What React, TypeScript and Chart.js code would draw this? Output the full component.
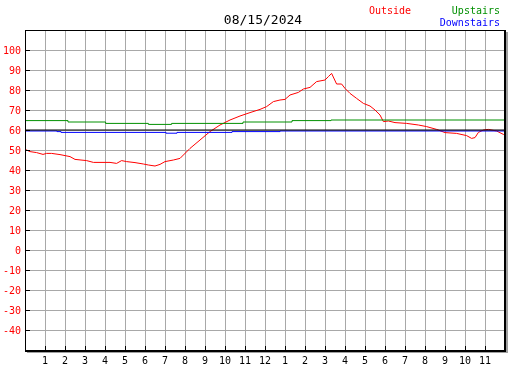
import React, { useEffect, useRef } from 'react';
import { Chart, registerables } from 'chart.js';

Chart.register(...registerables);

const TITLE = '08/15/2024';
const SERIES_NAMES = ['Outside', 'Upstairs', 'Downstairs'];

const outsideHours = [0, 0.08, 0.25, 0.58, 0.9, 1.08, 1.33, 1.75, 2.25, 2.5, 3.08, 3.42, 4.25, 4.58, 4.83, 5.08, 5.5, 5.92, 6.17, 6.5, 6.75, 7.0, 7.42, 7.75, 8.25, 8.75, 9.25, 9.75, 10.25, 10.75, 11.25, 11.75, 12.08, 12.42, 12.75, 13.0, 13.25, 13.67, 13.92, 14.25, 14.58, 15.0, 15.17, 15.33, 15.58, 15.83, 16.0, 16.25, 16.58, 16.92, 17.25, 17.5, 17.75, 17.92, 18.17, 18.5, 19.08, 19.67, 20.08, 20.58, 21.0, 21.58, 22.08, 22.33, 22.5, 22.67, 22.92, 23.17, 23.58, 23.92, 24];
const outsideTemps = [50.5, 50, 49.2, 48.7, 47.8, 48.3, 48.3, 47.7, 46.7, 45.3, 44.7, 43.8, 43.8, 43.3, 44.7, 44.2, 43.7, 43, 42.5, 42, 42.8, 44.2, 45, 45.8, 50.8, 55, 59.2, 62.5, 65, 67, 68.7, 70.3, 71.7, 74.2, 75, 75.3, 77.5, 78.8, 80.5, 81.3, 84.2, 85, 86.7, 88.3, 83, 83, 80.8, 78.3, 75.8, 73.3, 72, 70, 67.5, 64.2, 64.5, 63.7, 63.3, 62.5, 61.7, 60.3, 58.7, 58.3, 57.2, 55.8, 56.2, 58.8, 60, 60.3, 59.5, 57.8, 57.5];

const upstairsHours = [0, 2.15, 4.03, 6.17, 7.33, 10.9, 13.35, 15.3, 24];
const upstairsTemps = [64.7, 64, 63.3, 62.8, 63.3, 64, 64.7, 65, 65];

const downstairsHours = [0, 1.6, 1.8, 7.05, 7.6, 10.35, 12.75, 24];
const downstairsTemps = [59.5, 59.2, 58.8, 58.4, 58.8, 59.2, 59.5, 59.5];

const referenceLine = 60;
const Y_MIN = -50;
const Y_MAX = 110;
const Y_STEP = 10;
const X_MIN = 0;
const X_MAX = 24;

const toPoints = (xs: number[], ys: number[]) => xs.map((x, i) => ({ x, y: ys[i] }));

const hourLabel = (v: number) => {
  const h = Math.round(v);
  if (h <= 0 || h >= 24) return '';
  const m = h % 12;
  return m === 0 ? '12' : String(m);
};

const MONO = '"DejaVu Sans Mono", "Liberation Mono", monospace';

const framePlugin = {
  id: 'frame',
  afterDraw(chart: any) {
    const { ctx, chartArea, scales } = chart;
    const { left, top, right, bottom } = chartArea;
    const x = scales.x;
    const y = scales.y;
    ctx.save();
    // inward tick marks
    ctx.strokeStyle = '#000';
    ctx.lineWidth = 1;
    ctx.beginPath();
    for (let v = Y_MIN + Y_STEP; v < Y_MAX; v += Y_STEP) {
      const py = Math.round(y.getPixelForValue(v)) + 0.5;
      ctx.moveTo(left, py);
      ctx.lineTo(left + 5, py);
    }
    for (let h = X_MIN + 1; h < X_MAX; h++) {
      const px = Math.round(x.getPixelForValue(h)) + 0.5;
      ctx.moveTo(px, bottom);
      ctx.lineTo(px, bottom - 4);
    }
    ctx.stroke();
    // shadow
    ctx.fillStyle = '#a0a0a0';
    ctx.fillRect(right + 1, top + 2, 2, bottom - top + 1);
    ctx.fillRect(left + 2, bottom + 2, right - left + 1, 1);
    // border
    ctx.fillStyle = '#000';
    ctx.fillRect(left, top, right - left, 1);
    ctx.fillRect(left, top, 1, bottom - top + 1);
    ctx.fillRect(right - 1, top, 2, bottom - top + 2);
    ctx.fillRect(left, bottom, right - left + 1, 2);
    // title and legend text
    ctx.textBaseline = 'middle';
    ctx.font = '13px ' + MONO;
    ctx.fillStyle = '#000';
    ctx.textAlign = 'center';
    ctx.fillText(TITLE, 263, 20.5);
    ctx.font = '10px ' + MONO;
    ctx.textAlign = 'left';
    ctx.fillStyle = '#ff0000';
    ctx.fillText(SERIES_NAMES[0], 369, 11.5);
    ctx.textAlign = 'right';
    ctx.fillStyle = '#009000';
    ctx.fillText(SERIES_NAMES[1], 500, 11.5);
    ctx.fillStyle = '#0000ff';
    ctx.fillText(SERIES_NAMES[2], 500, 23.5);
    ctx.restore();
  },
};

export default function App() {
  const canvasRef = useRef<HTMLCanvasElement | null>(null);

  useEffect(() => {
    if (!canvasRef.current) return;
    const chart = new Chart(canvasRef.current, {
      type: 'line',
      data: {
        datasets: [
          {
            label: 'Reference',
            data: toPoints([X_MIN, X_MAX], [referenceLine, referenceLine]),
            borderColor: '#000000',
            borderWidth: 1,
            pointRadius: 0,
          },
          {
            label: SERIES_NAMES[2],
            data: toPoints(downstairsHours, downstairsTemps),
            borderColor: '#0000ff',
            borderWidth: 1,
            pointRadius: 0,
            stepped: true,
          },
          {
            label: SERIES_NAMES[1],
            data: toPoints(upstairsHours, upstairsTemps),
            borderColor: '#009000',
            borderWidth: 1,
            pointRadius: 0,
            stepped: true,
          },
          {
            label: SERIES_NAMES[0],
            data: toPoints(outsideHours, outsideTemps),
            borderColor: '#ff0000',
            borderWidth: 1,
            pointRadius: 0,
            tension: 0,
          },
        ],
      },
      options: {
        animation: false,
        responsive: false,
        maintainAspectRatio: false,
        layout: { padding: { left: 0, top: 30, right: 22, bottom: 0 } },
        plugins: {
          legend: { display: false },
          title: { display: false },
          tooltip: { enabled: false },
        },
        scales: {
          x: {
            type: 'linear',
            min: X_MIN,
            max: X_MAX,
            afterFit: (s: any) => { s.height = 20; },
            grid: { color: '#a8a8a8', lineWidth: 1, drawTicks: false },
            border: { display: false },
            ticks: {
              stepSize: 1,
              autoSkip: false,
              maxRotation: 0,
              padding: 5,
              color: '#000',
              font: { family: MONO, size: 10 },
              callback: (v: any) => hourLabel(Number(v)),
            },
          },
          y: {
            type: 'linear',
            min: Y_MIN,
            max: Y_MAX,
            afterFit: (s: any) => { s.width = 25; },
            grid: { color: '#a8a8a8', lineWidth: 1, drawTicks: false },
            border: { display: false },
            ticks: {
              stepSize: Y_STEP,
              autoSkip: false,
              padding: 4,
              color: '#ff0000',
              labelOffset: 1,
              font: { family: MONO, size: 10 },
              callback: (v: any) => (Number(v) <= Y_MIN || Number(v) >= Y_MAX ? '' : String(v)),
            },
          },
        },
      },
      plugins: [framePlugin],
    } as any);
    return () => chart.destroy();
  }, []);

  return (
    <div style={{ position: 'fixed', left: 0, top: 0, width: 527, height: 370, background: '#fff' }}>
      <canvas ref={canvasRef} width={527} height={370} style={{ display: 'block', width: 527, height: 370 }} />
    </div>
  );
}
